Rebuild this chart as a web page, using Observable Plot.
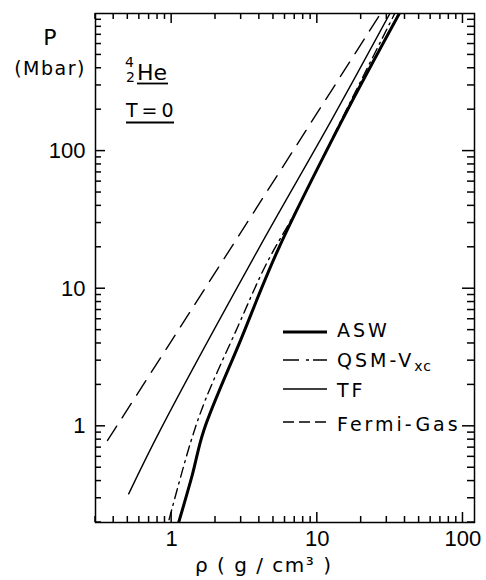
<!DOCTYPE html>
<html><head><meta charset="utf-8">
<script src="https://cdn.jsdelivr.net/npm/d3@7"></script>
<script src="https://cdn.jsdelivr.net/npm/@observablehq/plot@0.6"></script>
<style>body{margin:0;background:#fff}svg{display:block}</style>
</head><body><div id="chart"></div>
<script>
// Density rho (g/cm^3) and pressure P (Mbar)
const aswRho   = [1.117, 1.383, 1.66, 2.98, 5.35, 14.7, 37.5];
const aswP     = [0.2, 0.44, 0.93, 4.25, 19, 165, 1050];
const qsmRho   = [0.96, 1.35, 1.71, 2.84, 4.42, 7.33, 14.6, 34.8];
const qsmP     = [0.21, 0.766, 1.57, 5.27, 14.8, 38.8, 168, 1050];
const tfRho    = [0.507, 0.84, 3.9, 12.4, 32.3];
const tfP      = [0.323, 0.95, 19, 165, 1050];
const fermiRho = [0.363, 1, 10, 27.5];
const fermiP   = [0.79, 4.2, 190, 1020];

const seriesNames = ["ASW", "QSM-Vxc", "TF", "Fermi-Gas"];

const xMajor = [1, 10, 100];
const xMinor = [0.3, 0.4, 0.5, 0.6, 0.7, 0.8, 0.9, 2, 3, 4, 5, 6, 7, 8, 9, 20, 30, 40, 50, 60, 70, 80, 90];
const yMajor = [1, 10, 100];
const yMinor = [0.2, 0.3, 0.4, 0.5, 0.6, 0.7, 0.8, 0.9, 2, 3, 4, 5, 6, 7, 8, 9, 20, 30, 40, 50, 60, 70, 80, 90, 200, 300, 400, 500, 600, 700, 800, 900];

const toRows = (xs, ys) => xs.map((r, i) => ({rho: r, p: ys[i]}));
const asw = toRows(aswRho, aswP);
const qsm = toRows(qsmRho, qsmP);
const tf = toRows(tfRho, tfP);
const fermi = toRows(fermiRho, fermiP);

const numFont = "Liberation Sans, Arial, sans-serif";
const txtFont = "DejaVu Sans, sans-serif";

const W = 486, H = 580, mT = 13, mL = 95, mR = 12, mB = 58;

const chartSvg = Plot.plot({
  width: W, height: H,
  marginTop: mT, marginLeft: mL, marginRight: mR, marginBottom: mB,
  style: {fontFamily: numFont, color: "black", background: "white"},
  x: {type: "log", domain: [0.3, 120]},
  y: {type: "log", domain: [0.2, 1000]},
  marks: [
    Plot.axisX(xMajor, {anchor: "bottom", tickSize: 0, tickPadding: 8, tickFormat: d => String(d), label: null, fontSize: 22}),
    Plot.axisY(yMajor, {anchor: "left", tickSize: 0, tickPadding: 10, tickFormat: d => String(d), label: null, fontSize: 22}),
    Plot.frame({stroke: "black", strokeWidth: 1.5}),
    Plot.line(fermi, {x: "rho", y: "p", stroke: "black", strokeWidth: 1.4, strokeDasharray: "17,10", curve: "catmull-rom", clip: true}),
    Plot.line(tf, {x: "rho", y: "p", stroke: "black", strokeWidth: 1.4, curve: "catmull-rom", clip: true}),
    Plot.line(qsm, {x: "rho", y: "p", stroke: "black", strokeWidth: 1.4, strokeDasharray: "10,5,2,5", curve: "catmull-rom", clip: true}),
    Plot.line(asw, {x: "rho", y: "p", stroke: "black", strokeWidth: 3, curve: "catmull-rom", clip: true})
  ]
});
document.getElementById("chart").appendChild(chartSvg);

const s = d3.select(chartSvg);
const sx = chartSvg.scale("x"), sy = chartSvg.scale("y");
const fL = mL, fR = W - mR, fT = mT, fB = H - mB;

// inward ticks on all four sides, placed with Plot's own scales
const seg = (x1, y1, x2, y2) => s.append("line")
  .attr("x1", x1).attr("y1", y1).attr("x2", x2).attr("y2", y2)
  .attr("stroke", "black").attr("stroke-width", 1.5);
xMajor.forEach(v => { const x = sx.apply(v); seg(x, fB, x, fB - 10); seg(x, fT, x, fT + 10); });
xMinor.forEach(v => { const x = sx.apply(v); seg(x, fB, x, fB - 6); seg(x, fT, x, fT + 6); });
yMajor.forEach(v => { const y = sy.apply(v); seg(fL, y, fL + 10, y); seg(fR, y, fR - 12, y); });
yMinor.forEach(v => { const y = sy.apply(v); seg(fL, y, fL + 6, y); seg(fR, y, fR - 7, y); });

const addText = (x, y, size, str, opts = {}) => {
  const t = s.append("text").attr("x", x).attr("y", y)
    .attr("font-family", txtFont).attr("font-size", size)
    .attr("text-anchor", opts.anchor || "start").attr("fill", "black");
  if (opts.ls) t.attr("letter-spacing", opts.ls);
  if (str != null) t.text(str);
  return t;
};

// Legend (pixel layout)
const legend = [
  {y: 332, base: 337, w: 3, dash: null},
  {y: 360, base: 367, w: 1.5, dash: "16,7,3,4"},
  {y: 389, base: 397, w: 1.5, dash: null},
  {y: 422, base: 431, w: 1.5, dash: "11,5"}
];
legend.forEach((d, i) => {
  s.append("line").attr("x1", 283).attr("x2", 327).attr("y1", d.y).attr("y2", d.y)
    .attr("stroke", "black").attr("stroke-width", d.w).attr("stroke-dasharray", d.dash);
  const t = addText(337, d.base, 19, null, {ls: 3});
  if (i === 1) {
    t.append("tspan").text("QSM-V");
    t.append("tspan").attr("dy", 4).attr("font-size", 14).attr("letter-spacing", 1).text("xc");
  } else {
    t.text(seriesNames[i]);
  }
});

// Y axis title
addText(50, 45, 22, "P", {anchor: "middle"});
addText(50, 75, 19, "(Mbar)", {anchor: "middle", ls: 1.5});

// 4/2 He, T = 0
addText(125, 67, 14, "4");
addText(126, 82, 14, "2");
addText(137, 80, 22, "He");
s.append("line").attr("x1", 137).attr("x2", 168).attr("y1", 83.5).attr("y2", 83.5).attr("stroke", "black").attr("stroke-width", 1.8);
addText(126, 117, 19, "T=0", {ls: 4});
s.append("line").attr("x1", 126).attr("x2", 174).attr("y1", 122.5).attr("y2", 122.5).attr("stroke", "black").attr("stroke-width", 1.8);

// X axis title
addText(195, 572, 20, "ρ ( g / cm³ )", {ls: 1.5});
</script>
</body></html>
